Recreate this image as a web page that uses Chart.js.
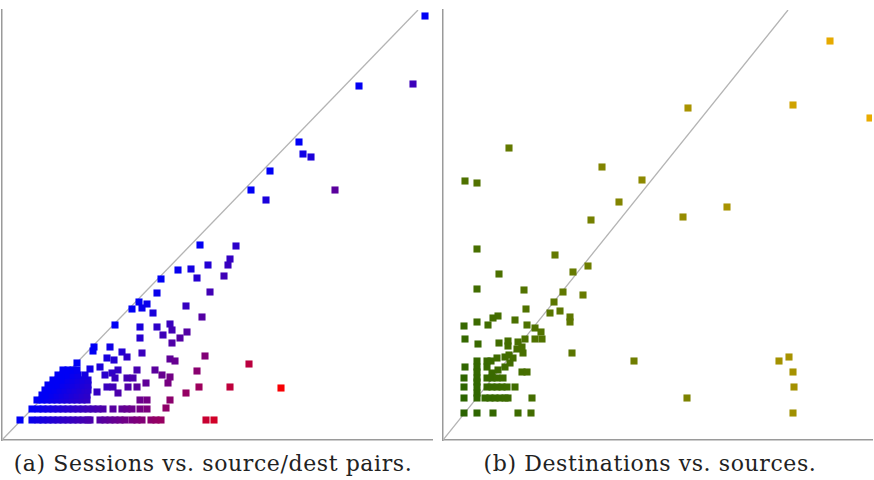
<!DOCTYPE html>
<html>
<head>
<meta charset="utf-8">
<script src="https://cdn.jsdelivr.net/npm/chart.js@4.4.0/dist/chart.umd.min.js"></script>
<style>
  body { margin: 0; background: #fff; width: 874px; height: 480px; overflow: hidden; position: relative; }
  canvas { position: absolute; top: 0; }
  #c1 { left: 0; }
  #c2 { left: 437px; }
  .cap { position: absolute; top: 451px; font-family: "DejaVu Serif"; font-size: 22px; letter-spacing: 0.6px; color: #222; white-space: nowrap; text-align: center; }
  #cap1 { left: 0; width: 426px; }
  #cap2 { left: 437px; width: 426px; }
</style>
</head>
<body>
<canvas id="c1" width="437" height="445"></canvas>
<canvas id="c2" width="437" height="445"></canvas>
<div class="cap" id="cap1">(a) Sessions vs. source/dest pairs.</div>
<div class="cap" id="cap2">(b) Destinations vs. sources.</div>
<script>
// (a) source/dest pairs (x) vs sessions (y), axis units
let pairs = [423, 357, 411, 297, 301, 309, 268, 333, 249, 264,
  198, 234, 228, 226, 206, 176, 189, 195, 222, 159, 208, 155, 137, 145, 130, 140, 184, 151, 200,
  113, 138, 155, 168, 170, 161, 185, 178, 138, 170, 92, 108, 91, 140, 120, 125, 203, 105, 112,
  168, 173, 75, 247, 98, 88, 116, 135, 153, 195, 103, 110, 160, 168, 113, 125, 131, 144, 166,
  105, 111, 126, 135, 197, 228, 279, 95, 116, 184, 138, 145, 168, 164,
  35, 40, 45, 50, 55, 60, 65, 70, 75, 80, 85,
  40, 45, 50, 55, 60, 65, 70, 75, 80, 85,
  43, 48, 53, 58, 63, 68, 73, 78, 83, 86,
  46, 51, 56, 61, 66, 71, 76, 81, 86,
  51, 56, 61, 66, 71, 76, 81, 86,
  56, 61, 66, 71, 76, 83,
  61, 66, 71, 75,
  30, 36, 41, 46, 51, 56, 61, 66, 71, 76, 81, 86, 91, 96, 101, 111, 120, 125, 130, 138, 145,
  18, 30, 36, 41, 46, 51, 56, 61, 66, 71, 76, 81, 86, 88, 98, 103, 108, 113, 118, 123, 130, 135, 140, 149, 154, 159, 204, 212];
let sessions = [424, 354, 356, 298, 286, 283, 269, 250, 250, 240,
  195, 194, 181, 175, 175, 170, 171, 162, 164, 161, 148, 147, 138, 136, 131, 132, 134, 127, 123,
  115, 113, 113, 116, 110, 105, 108, 102, 102, 97, 93, 93, 89, 87, 88, 83, 84, 82, 80,
  81, 79, 77, 76, 73, 71, 70, 70, 70, 69, 65, 67, 65, 63, 62, 62, 62, 57, 57,
  53, 53, 53, 53, 53, 53, 52, 48, 47, 47, 40, 40, 40, 32,
  40, 40, 40, 40, 40, 40, 40, 40, 40, 40, 40,
  45, 45, 45, 45, 45, 45, 45, 45, 45, 45,
  50, 50, 50, 50, 50, 50, 50, 50, 50, 50,
  55, 55, 55, 55, 55, 55, 55, 55, 55,
  60, 60, 60, 60, 60, 60, 60, 60,
  65, 65, 65, 65, 65, 65,
  70, 70, 70, 70,
  31, 31, 31, 31, 31, 31, 31, 31, 31, 31, 31, 31, 31, 31, 31, 31, 31, 31, 31, 31, 31,
  20, 20, 20, 20, 20, 20, 20, 20, 20, 20, 20, 20, 20, 20, 20, 20, 20, 20, 20, 20, 20, 20, 20, 20, 20, 20, 20, 20];

// (b) sources (x) vs destinations (y)
let sources = [387, 245, 350, 427, 66, 22, 34, 159, 199, 176, 284, 240, 148,
  34, 112, 145, 130, 56, 34, 81, 120, 140, 111, 83, 107, 117, 127, 127, 55, 50, 72, 34, 45, 84,
  21, 92, 98, 22, 35, 56, 65, 65, 75, 82, 92, 99, 79, 74, 80, 129, 191, 336, 346, 350, 351, 350, 244,
  34, 44, 48, 54, 62, 66, 70,
  22, 34, 34, 44, 49, 55, 62, 67, 79, 84,
  21, 34, 44, 49, 54, 60, 34,
  21, 34, 44, 49, 54, 59, 64, 72, 34,
  21, 34, 42, 47, 52, 57, 62, 65, 89,
  21, 34, 50, 75, 88];
let destinations = [399, 332, 335, 322, 292, 259, 257, 273, 260, 238, 233, 223, 220,
  191, 185, 174, 168, 166, 151, 150, 148, 145, 138, 131, 127, 129, 123, 118, 124, 122, 120, 118, 115, 115,
  114, 112, 108, 101, 96, 97, 99, 94, 98, 101, 101, 101, 93, 91, 87, 87, 79, 79, 83, 68, 53, 27, 42,
  79, 79, 79, 82, 83, 85, 82,
  73, 73, 68, 73, 67, 70, 73, 77, 68, 68,
  62, 62, 62, 62, 62, 62, 58,
  53, 53, 53, 53, 53, 53, 53, 53, 47,
  42, 42, 42, 42, 42, 42, 42, 42, 42,
  27, 27, 27, 27, 27];

// reference diagonals (equal values), endpoints in axis units
let diagA = [[0, 0], [416, 430]];
let diagB = [[0, 0], [345, 430]];

function toPoints(xs, ys) {
  return xs.map((x, i) => ({ x: x, y: ys[i] }));
}

function colorA(c) {
  const p = c.raw;
  if (!p) return 'blue';
  let t = (p.x - p.y) / 230;
  t = Math.max(0, Math.min(1, t));
  const r = Math.round(250 * t);
  const b = Math.round(245 * (1 - t));
  return 'rgb(' + r + ',0,' + b + ')';
}

function colorB(c) {
  const p = c.raw;
  if (!p) return 'green';
  let t = (0.7 * p.x + 0.3 * p.y) / 400;
  t = Math.max(0, Math.min(1, t));
  const r = Math.round(30 + 205 * t);
  const g = Math.round(95 + 77 * t);
  return 'rgb(' + r + ',' + g + ',0)';
}

function makeChart(id, pts, diag, colorFn, pad, xmax) {
  new Chart(document.getElementById(id).getContext('2d'), {
    type: 'scatter',
    data: {
      datasets: [{
        data: pts,
        pointStyle: 'rect',
        pointRadius: 5,
        pointBorderWidth: 0,
        backgroundColor: colorFn
      }, {
        type: 'line',
        data: diag.map(d => ({ x: d[0], y: d[1] })),
        borderColor: '#b4b4b4',
        borderWidth: 1.3,
        pointRadius: 0,
        fill: false
      }]
    },
    options: {
      responsive: false,
      animation: false,
      layout: { autoPadding: false, padding: pad },
      plugins: { legend: { display: false }, tooltip: { enabled: false } },
      scales: {
        x: {
          type: 'linear', min: 0, max: xmax,
          ticks: { display: false },
          grid: { display: false, drawTicks: false },
          border: { color: '#9a9a9a', width: 1.5 }
        },
        y: {
          type: 'linear', min: 0, max: 430,
          ticks: { display: false },
          grid: { display: false, drawTicks: false },
          border: { color: '#9a9a9a', width: 1.5 }
        }
      }
    }
  });
}

makeChart('c1', toPoints(pairs, sessions), diagA, colorA, { left: 2, right: 5, top: 10, bottom: 5 }, 430);
makeChart('c2', toPoints(sources, destinations), diagB, colorB, { left: 6, right: 2, top: 10, bottom: 5 }, 429);
</script>
</body>
</html>
